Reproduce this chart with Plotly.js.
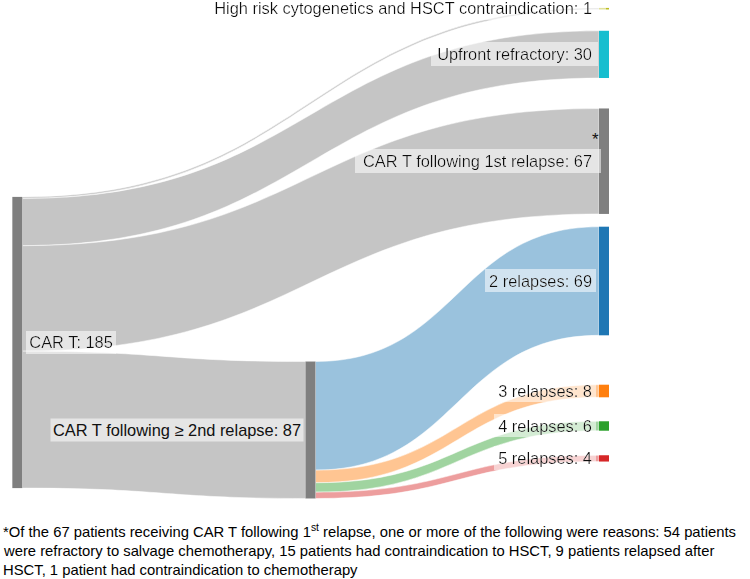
<!DOCTYPE html>
<html><head><meta charset="utf-8">
<script src="https://cdn.plot.ly/plotly-3.0.1.min.js"></script>
<style>
html,body{margin:0;padding:0;background:#fff;}
#chart{width:750px;height:579px;}
.js-plotly-plot .sankey .node-label{filter:url(#lblbg);}
</style></head><body>
<svg width="0" height="0" style="position:absolute"><defs>
<filter id="lblbg" x="-0.035" y="-0.12" width="1.07" height="1.24">
<feFlood flood-color="#ffffff" flood-opacity="0.55"/>
<feMerge><feMergeNode/><feMergeNode in="SourceGraphic"/></feMerge>
</filter></defs></svg>
<div id="chart"></div>
<script>
// ---- data ----
const nodeNames = ["CAR T", "High risk cytogenetics and HSCT contraindication", "Upfront refractory",
  "CAR T following 1st relapse", "CAR T following \u2265 2nd relapse",
  "2 relapses", "3 relapses", "4 relapses", "5 relapses"];
const linkSource = [0, 0, 0, 0, 4, 4, 4, 4];
const linkTarget = [1, 2, 3, 4, 5, 6, 7, 8];
const linkValue  = [1, 30, 67, 87, 69, 8, 6, 4];
const footnoteLines = [
  "*Of the 67 patients receiving CAR T following 1<sup>st</sup> relapse, one or more of the following were reasons: 54 patients",
  "were refractory to salvage chemotherapy, 15 patients had contraindication to HSCT, 9 patients relapsed after",
  "HSCT, 1 patient had contraindication to chemotherapy"
];

// ---- layout / style ----
const nodeX = [0.0287, 1, 1, 1, 0.514, 1, 1, 1, 1];
const nodeY = [0.685, 0.0174, 0.1088, 0.3224, 0.86, 0.562, 0.782, 0.852, 0.9168];
const nodeColors = ["#7f7f7f", "#bcbd22", "#17becf", "#7f7f7f", "#7f7f7f", "#1f77b4", "#ff7f0e", "#2ca02c", "#d62728"];
const linkColors = ["rgba(127,127,127,0.45)", "rgba(127,127,127,0.45)", "rgba(127,127,127,0.45)", "rgba(127,127,127,0.45)",
  "rgba(31,119,180,0.45)", "rgba(255,127,14,0.45)", "rgba(44,160,44,0.45)", "rgba(214,39,40,0.45)"];
const leftLabelNode = 4; // middle node whose label sits on its left side

const inflow = nodeNames.map(() => 0), outflow = nodeNames.map(() => 0);
linkValue.forEach((v, i) => { outflow[linkSource[i]] += v; inflow[linkTarget[i]] += v; });
const nodeLabels = nodeNames.map((n, i) => n + ": " + Math.max(inflow[i], outflow[i]));
const drawnLabels = nodeLabels.map((t, i) => i === leftLabelNode ? "" : t);

const W = 750, H = 579;
const labelFont = {family: "Liberation Sans, Arial, sans-serif", size: 16.4, color: "#111"};
const trace = {
  type: "sankey",
  arrangement: "fixed",
  domain: {x: [0, 604 / W], y: [1 - 500 / H, 1]},
  hoverinfo: "none",
  textfont: Object.assign({shadow: "none"}, labelFont),
  node: {
    label: drawnLabels, color: nodeColors, x: nodeX, y: nodeY,
    thickness: 10, pad: 34.8, line: {width: 8, color: "rgba(0,0,0,0)"}, hoverinfo: "none"
  },
  link: {
    source: linkSource, target: linkTarget, value: linkValue, color: linkColors,
    line: {color: "white", width: 0.5}, hoverinfo: "none"
  }
};

const footY = [531, 551, 570];
const annotations = [
  {xref: "paper", yref: "paper", x: 601 / W, y: 1 - 128 / H, text: "*", showarrow: false,
   font: {family: "Liberation Sans, Arial, sans-serif", size: 17, color: "#111"}},
  {xref: "paper", yref: "paper", x: 304 / W, y: 1 - 430 / H, xanchor: "right", yanchor: "middle",
   text: nodeLabels[leftLabelNode], showarrow: false, bgcolor: "rgba(255,255,255,0.55)", borderpad: 2,
   font: labelFont}
].concat(footnoteLines.map((t, i) => ({
  xref: "paper", yref: "paper", x: 1 / W, y: 1 - footY[i] / H, xanchor: "left", yanchor: "middle",
  text: t, showarrow: false, align: "left",
  font: {family: "Liberation Sans, Arial, sans-serif", size: 14.8, color: "#000"}
})));

Plotly.newPlot("chart", [trace], {
  width: W, height: H, margin: {l: 0, r: 0, t: 0, b: 0},
  paper_bgcolor: "#fff", showlegend: false, annotations: annotations
}, {displayModeBar: false, staticPlot: true});
</script></body></html>
